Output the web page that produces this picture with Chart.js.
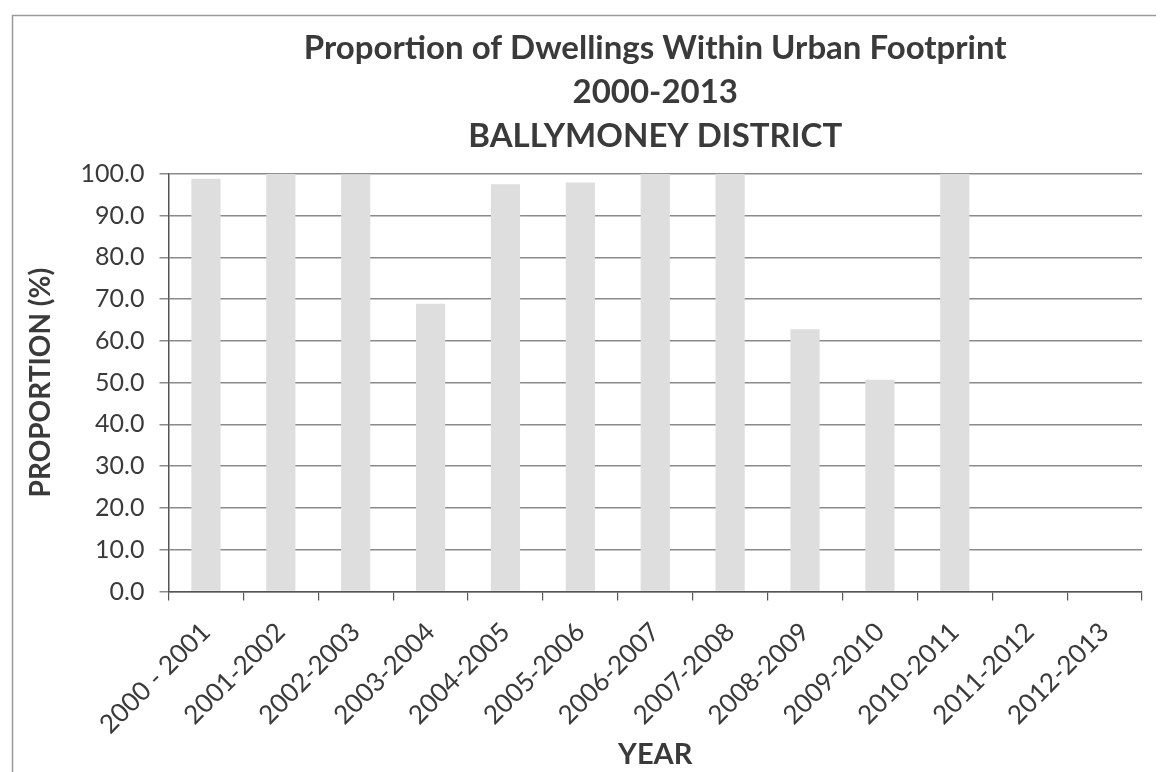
<!DOCTYPE html>
<html>
<head>
<meta charset="utf-8">
<script src="https://cdn.jsdelivr.net/npm/chart.js@4"></script>
<style>
  html, body { margin: 0; padding: 0; background: #fff; }
  #wrap { width: 1160px; height: 772px; position: relative; }
</style>
</head>
<body>
<div id="wrap"><canvas id="dwellingsChart"></canvas></div>
<script>
const years = ['2000 - 2001', '2001-2002', '2002-2003', '2003-2004', '2004-2005', '2005-2006', '2006-2007',
    '2007-2008', '2008-2009', '2009-2010', '2010-2011', '2011-2012', '2012-2013'];
const proportions = [98.8, 100.0, 99.8, 68.9, 97.5, 97.9, 100.0, 100.0, 62.8, 50.7, 100.0, null, null];
const yTicks = [0, 10, 20, 30, 40, 50, 60, 70, 80, 90, 100];
const titleLines = ['Proportion of Dwellings Within Urban Footprint', '2000-2013', 'BALLYMONEY DISTRICT'];

const textColor = '#3a3a3a';
const fontFamily = 'Lato, "Open Sans", sans-serif';

// scanned page frame round the chart
const framePlugin = {
    id: 'frame',
    beforeDraw(chart) {
        const ctx = chart.ctx;
        ctx.save();
        ctx.strokeStyle = '#9a9a9a';
        ctx.lineWidth = 1.5;
        ctx.beginPath();
        ctx.moveTo(12.5, 800);
        ctx.lineTo(12.5, 15.5);
        ctx.lineTo(1156, 15.5);
        ctx.stroke();
        ctx.restore();
    }
};

document.addEventListener('DOMContentLoaded', function() {
    const ctx = document.getElementById('dwellingsChart').getContext('2d');
    new Chart(ctx, {
        type: 'bar',
        data: {
            labels: years,
            datasets: [{
                data: proportions,
                backgroundColor: '#dedede',
                borderWidth: 0,
                barPercentage: 0.39,
                categoryPercentage: 1.0
            }]
        },
        options: {
            responsive: true,
            maintainAspectRatio: false,
            animation: false,
            layout: { padding: { left: 24, right: 18, top: 27, bottom: 0 } },
            plugins: {
                legend: { display: false },
                tooltip: { enabled: false },
                title: {
                    display: true,
                    text: titleLines,
                    fullSize: false,
                    color: textColor,
                    font: { family: fontFamily, size: 33, weight: 'bold', lineHeight: 1.32 },
                    padding: { top: 0, bottom: 16 }
                }
            },
            scales: {
                x: {
                    offset: true,
                    grid: {
                        offset: true,
                        drawOnChartArea: false,
                        drawTicks: true,
                        tickLength: 9,
                        color: '#555',
                        lineWidth: 1.2
                    },
                    border: { color: '#555', width: 1.5 },
                    ticks: {
                        color: textColor,
                        font: { family: fontFamily, size: 26 },
                        maxRotation: 45,
                        minRotation: 45,
                        autoSkip: false,
                        padding: 16
                    },
                    title: {
                        display: true,
                        text: 'YEAR',
                        color: textColor,
                        font: { family: fontFamily, size: 29, weight: 'bold' },
                        padding: { top: -19, bottom: 0 }
                    }
                },
                y: {
                    min: 0,
                    max: 100,
                    afterBuildTicks(axis) {
                        axis.ticks = yTicks.map(v => ({ value: v }));
                    },
                    grid: {
                        color: '#8a8a8a',
                        lineWidth: 1.5,
                        tickLength: 9
                    },
                    border: { color: '#555', width: 1.5 },
                    ticks: {
                        color: textColor,
                        font: { family: fontFamily, size: 25 },
                        padding: 15,
                        callback: value => value.toFixed(1)
                    },
                    title: {
                        display: true,
                        text: 'PROPORTION (%)',
                        color: textColor,
                        font: { family: fontFamily, size: 28, weight: 'bold' },
                        padding: { top: 0, bottom: 8 }
                    }
                }
            }
        },
        plugins: [framePlugin]
    });
});
</script>
</body>
</html>
